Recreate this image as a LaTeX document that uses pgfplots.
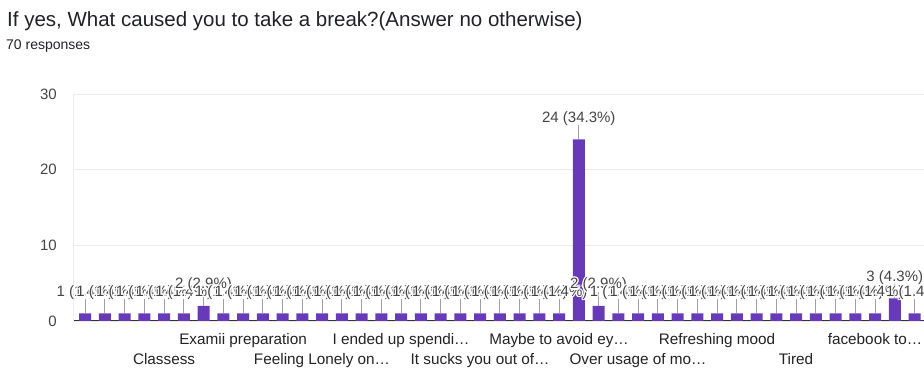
\documentclass[border=0pt]{standalone}
\usepackage{pgfplots}
\pgfplotsset{compat=1.18}
\usepackage{pgfplotstable}
\usepackage{fontspec}
\setmainfont{Liberation Sans}

\definecolor{barpurple}{HTML}{673AB7}
\definecolor{titlegray}{HTML}{202124}
\definecolor{labelgray}{HTML}{444444}
\definecolor{tickgray}{HTML}{222222}
\definecolor{gridgray}{HTML}{EBEBEB}
\definecolor{stemgray}{HTML}{A0A0A0}
\definecolor{axisgray}{HTML}{333333}

% answers (one bar per distinct answer) and how many respondents gave each
\pgfplotstableread{
idx n
0 1
1 1
2 1
3 1
4 1
5 1
6 2
7 1
8 1
9 1
10 1
11 1
12 1
13 1
14 1
15 1
16 1
17 1
18 1
19 1
20 1
21 1
22 1
23 1
24 1
25 24
26 2
27 1
28 1
29 1
30 1
31 1
32 1
33 1
34 1
35 1
36 1
37 1
38 1
39 1
40 1
41 3
42 1
}\breaks

% white outline behind a label, so overlapping labels cut into each other
\newcommand\haloat[3]{\rlap{\hspace*{#1}\raisebox{#2}{\textcolor{white}{#3}}}}
\newcommand\halo[1]{\leavevmode
  \haloat{1.3pt}{0pt}{#1}\haloat{-1.3pt}{0pt}{#1}%
  \haloat{0pt}{1.3pt}{#1}\haloat{0pt}{-1.3pt}{#1}%
  \haloat{0.9pt}{0.9pt}{#1}\haloat{-0.9pt}{0.9pt}{#1}%
  \haloat{0.9pt}{-0.9pt}{#1}\haloat{-0.9pt}{-0.9pt}{#1}%
  #1}

\begin{document}
\begin{tikzpicture}
\useasboundingbox (0,0) rectangle (924pt,372pt);

\node[anchor=base west, inner sep=0pt, text=titlegray,
      font=\fontsize{20.5}{23}\selectfont] at (7pt,345pt)
  {If yes, What caused you to take a break?(Answer no otherwise)};
\node[anchor=base west, inner sep=0pt, text=titlegray,
      font=\fontsize{14}{16}\selectfont] at (6pt,322pt)
  {70 responses};

\begin{axis}[
  at={(73pt,51pt)}, anchor=south west,
  scale only axis, width=851pt, height=227pt,
  xmin=-0.61, xmax=42.48, ymin=0, ymax=30,
  clip=false,
  /pgf/number format/assume math mode=true,
  ybar, bar width=12pt, bar shift=0pt,
  axis x line*=bottom, axis y line*=left,
  x axis line style={axisgray, line width=1pt, -},
  y axis line style={gridgray, line width=0.8pt, -},
  ymajorgrids, grid style={gridgray, line width=0.8pt},
  major tick length=0pt,
  ytick={0,10,20,30},
  yticklabel style={anchor=east, inner sep=0pt, xshift=-16pt,
                    text=labelgray, font=\fontsize{15}{17}\selectfont},
  xtick={4,12,20,28,36},
  xticklabels={Classess, Feeling Lonely on…, It sucks you out of…,
               Over usage of mo…, Tired},
  extra x ticks={8,16,24,32,40},
  extra x tick labels={Examii preparation, I ended up spendi…,
                       Maybe to avoid ey…, Refreshing mood, facebook to…},
  extra x tick style={grid=none, xticklabel style={yshift=20pt}},
  xticklabel style={anchor=base, inner sep=0pt, yshift=-44pt,
                    text=tickgray, font=\fontsize{15.3}{17}\selectfont},
]
% bars, with a thin stem up to each value label (count and share of 70)
\addplot[
  fill=barpurple, draw=none,
  point meta=explicit,
  visualization depends on={\thisrow{n}*100/70 \as \pct},
  nodes near coords={\halo{\pgfmathprintnumber{\pgfplotspointmeta}\ (\pgfmathprintnumber[fixed,fixed zerofill,precision=1]{\pct}\%)}},
  every node near coord/.append style={anchor=base, yshift=17pt, inner sep=0pt,
      text=labelgray, font=\fontsize{15}{17}\selectfont},
  error bars/.cd, y dir=plus, y fixed=1.85,
    error mark=none,
    error bar style={stemgray, line width=0.8pt},
] table[x=idx, y=n, meta=n] {\breaks};
\end{axis}
\end{tikzpicture}
\end{document}
